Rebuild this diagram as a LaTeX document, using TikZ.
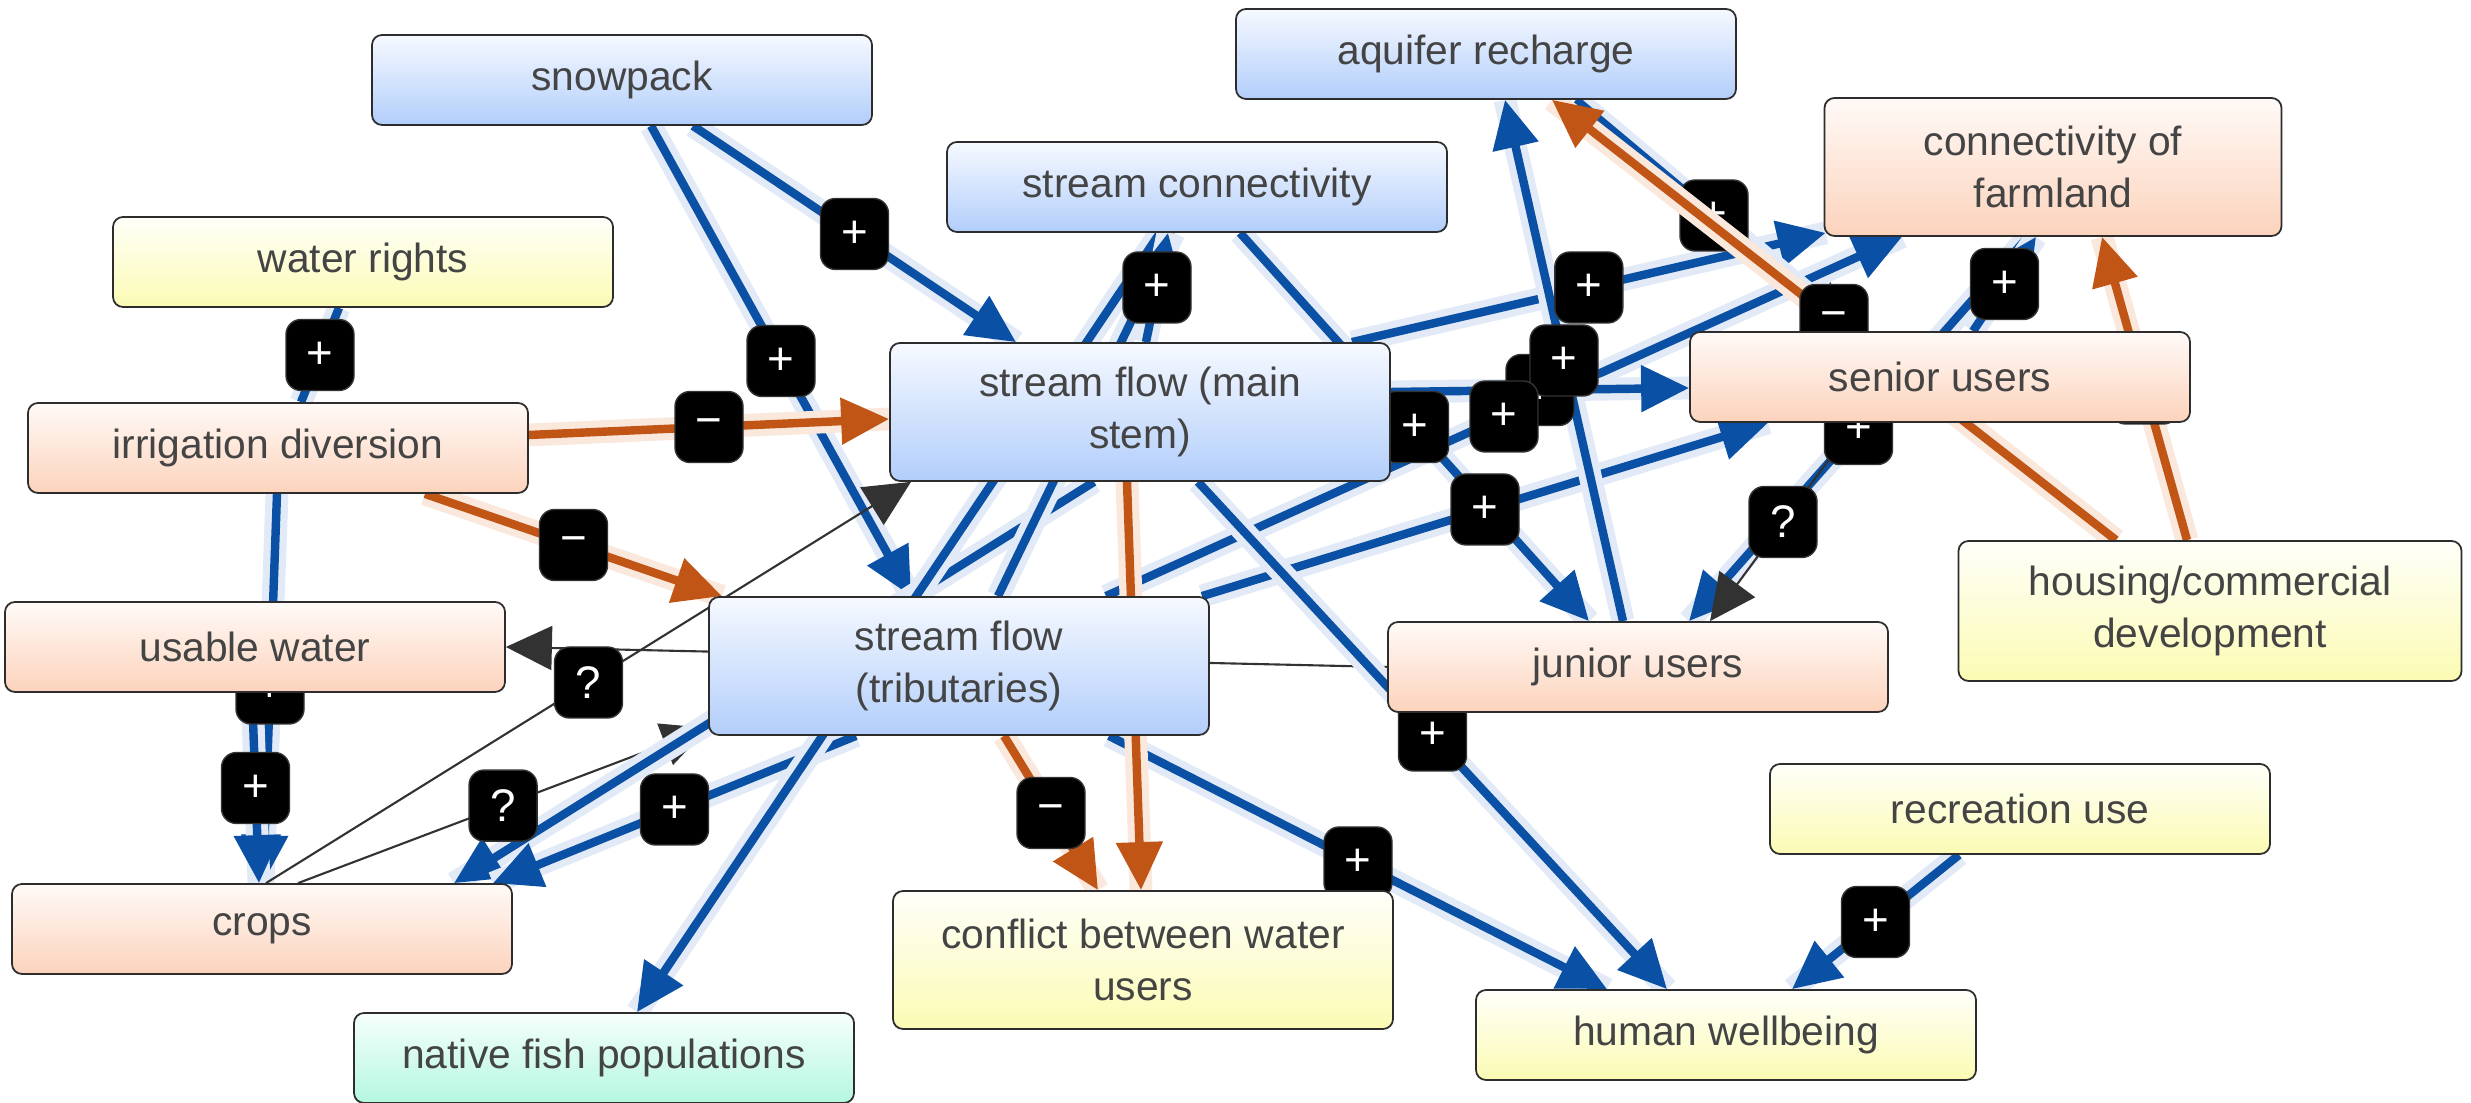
\documentclass[tikz,border=0pt]{standalone}
\usepackage{fontspec}
\setmainfont{Liberation Sans}
\usetikzlibrary{arrows.meta}

\definecolor{nodeline}{RGB}{45,45,45}
\definecolor{nodetext}{RGB}{68,68,68}
\definecolor{bluetop}{RGB}{246,249,255}
\definecolor{bluebot}{RGB}{178,206,251}
\definecolor{orangetop}{RGB}{255,250,247}
\definecolor{orangebot}{RGB}{252,211,188}
\definecolor{yellowtop}{RGB}{255,255,250}
\definecolor{yellowbot}{RGB}{251,251,180}
\definecolor{greentop}{RGB}{246,255,251}
\definecolor{greenbot}{RGB}{180,247,224}
\definecolor{posblue}{RGB}{10,80,165}
\definecolor{poshalo}{RGB}{225,234,246}
\definecolor{negorange}{RGB}{192,85,22}
\definecolor{neghalo}{RGB}{250,232,220}
\definecolor{unkgray}{RGB}{50,50,50}

\pgfdeclarelayer{edges}
\pgfdeclarelayer{signs}
\pgfsetlayers{edges,signs,main}

\tikzset{
	concept/.style={draw=nodeline,line width=0.5pt,rounded corners=1mm,minimum width=5cm,minimum height=0.9cm,inner sep=0pt,align=center,text=nodetext,font=\fontsize{11.6}{14.8}\selectfont},
	tall/.style={minimum height=1.38cm},
	bluebox/.style={concept,top color=bluetop,bottom color=bluebot},
	orangebox/.style={concept,top color=orangetop,bottom color=orangebot},
	yellowbox/.style={concept,top color=yellowtop,bottom color=yellowbot},
	greenbox/.style={concept,top color=greentop,bottom color=greenbot},
	posedge/.style={draw=posblue,line width=2.4pt,-{Triangle[length=4.8mm,width=4.5mm]},preaction={draw=poshalo,line width=6.5pt,-}},
	negedge/.style={draw=negorange,line width=2.4pt,-{Triangle[length=4.8mm,width=4.5mm]},preaction={draw=neghalo,line width=6.5pt,-}},
	unkedge/.style={draw=unkgray,line width=0.6pt,-{Triangle[length=4.6mm,width=4.4mm]}},
	sign/.style={fill=black,draw=black!80,rounded corners=1.5mm,minimum width=6.8mm,minimum height=7.1mm,inner sep=0pt,text=white,font=\fontsize{13}{13}\selectfont}
}

\begin{document}
\begin{tikzpicture}
	\useasboundingbox (0,0) rectangle (24.71,11.03);

	\node [bluebox] (snow) at (6.22,10.23) {snowpack};
	\node [bluebox] (aquifer) at (14.86,10.49) {aquifer recharge};
	\node [bluebox] (streamconn) at (11.97,9.16) {stream connectivity};
	\node [orangebox,tall,minimum width=4.57cm] (farmland) at (20.53,9.36) {connectivity of\\farmland};
	\node [yellowbox] (rights) at (3.63,8.41) {water rights};
	\node [bluebox,tall] (mainstem) at (11.40,6.91) {stream flow (main\\stem)};
	\node [orangebox] (senior) at (19.40,7.26) {senior users};
	\node [orangebox] (irrigation) at (2.78,6.55) {irrigation diversion};
	\node [yellowbox,minimum height=1.40cm,minimum width=5.03cm] (housing) at (22.10,4.92) {housing/commercial\\development};
	\node [orangebox] (usable) at (2.55,4.56) {usable water};
	\node [bluebox,tall] (tribs) at (9.59,4.37) {stream flow\\(tributaries)};
	\node [orangebox] (junior) at (16.38,4.36) {junior users};
	\node [yellowbox] (recreation) at (20.20,2.94) {recreation use};
	\node [orangebox] (crops) at (2.62,1.74) {crops};
	\node [yellowbox,tall] (conflict) at (11.43,1.43) {conflict between water\\users};
	\node [yellowbox] (wellbeing) at (17.26,0.68) {human wellbeing};
	\node [greenbox] (fish) at (6.04,0.45) {native fish populations};

	\begin{pgfonlayer}{edges}
	\draw [posedge] ([xshift=0.71cm]snow.south) -- coordinate [midway] (c1) ([xshift=-1.24cm]mainstem.north);
	\draw [posedge] ([xshift=0.29cm]snow.south) -- coordinate [midway] (c2) ([xshift=-0.48cm]tribs.north);
	\draw [posedge,-] ([xshift=-0.24cm]rights.south) -- coordinate [midway] (c3) ([xshift=0.23cm]irrigation.north);
	\draw [negedge] ([yshift=0.13cm]irrigation.east) -- coordinate [midway] (c4) ([yshift=-0.07cm]mainstem.west);
	\draw [negedge] ([xshift=1.47cm]irrigation.south) -- coordinate [midway] (c5) ([xshift=-2.37cm]tribs.north);
	\draw [posedge] ([xshift=-0.01cm]irrigation.south) -- coordinate [midway] (c6) ([xshift=0.01cm]crops.north);
	\draw [posedge] ([xshift=-0.03cm]usable.south) -- coordinate [midway] (c7) ([xshift=-0.03cm]crops.north);
	\draw [unkedge] ([xshift=0.04cm]crops.north) -- coordinate [midway] (c8) ([xshift=-2.29cm]mainstem.south);
	\draw [unkedge] ([xshift=0.36cm]crops.north) -- coordinate [midway] (c9) ([yshift=-0.62cm]tribs.west);
	\draw [unkedge] (junior.west) -- (usable.east);
	\draw [posedge] ([xshift=-0.46cm]mainstem.south) -- ([xshift=1.92cm]crops.north);
	\draw [posedge] ([xshift=-1.03cm]tribs.south) -- coordinate [midway] (c12) ([xshift=2.31cm]crops.north);
	\draw [posedge] ([xshift=-0.37cm]streamconn.south) -- ([xshift=0.33cm]fish.north);
	\draw [posedge] ([xshift=0.39cm]tribs.north) -- ([xshift=-0.23cm]streamconn.south);
	\draw [posedge] ([xshift=0.06cm]mainstem.north) -- coordinate [midway] (c15) ([xshift=-0.29cm]streamconn.south);
	\draw [posedge] ([xshift=0.43cm]streamconn.south) -- coordinate [midway] (c16) ([xshift=-0.49cm]junior.north);
	\draw [posedge] ([xshift=2.12cm]mainstem.north) -- coordinate [midway] (c17) ([xshift=0.02cm,yshift=0.04cm]farmland.south west);
	\draw [posedge] ([xshift=1.47cm]tribs.north) -- coordinate [midway] (c18) ([xshift=-1.51cm]farmland.south);
	\draw [posedge] ([yshift=0.20cm]mainstem.east) -- coordinate [midway] (c19) ([yshift=-0.11cm]senior.west);
	\draw [posedge] ([xshift=2.43cm]tribs.north) -- coordinate [midway] (c20) ([xshift=-1.72cm]senior.south);
	\draw [posedge] ([xshift=-0.15cm]junior.north) -- coordinate [midway] (c21) ([xshift=0.19cm]aquifer.south);
	\draw [posedge] ([xshift=0.90cm]aquifer.south) -- coordinate [midway] (c22) ([xshift=-0.88cm]senior.north);
	\draw [negedge] ([xshift=-0.23cm]housing.north) -- coordinate [midway] (c24) ([xshift=0.49cm]farmland.south);
	\draw [posedge] ([xshift=-0.25cm]farmland.south) -- coordinate [midway] (c25) ([xshift=0.51cm]junior.north);
	\draw [posedge] ([xshift=0.33cm]senior.north) -- coordinate [midway] (c26) ([xshift=-0.17cm]farmland.south);
	\draw [unkedge] ([xshift=-0.84cm]senior.south) -- coordinate [midway] (c27) ([xshift=0.72cm]junior.north);
	\draw [posedge] ([xshift=0.58cm]mainstem.south) -- coordinate [midway] (c28) ([xshift=-0.59cm]wellbeing.north);
	\draw [posedge] ([xshift=1.50cm]tribs.south) -- coordinate [midway] (c29) ([xshift=-1.19cm]wellbeing.north);
	\draw [posedge] ([xshift=-0.61cm]recreation.south) -- coordinate [midway] (c30) ([xshift=0.66cm]wellbeing.north);
	\draw [negedge] ([xshift=0.45cm]tribs.south) -- coordinate [midway] (c31) ([xshift=-0.45cm]conflict.north);
	\draw [negedge] ([xshift=-0.13cm]mainstem.south) -- ([xshift=-0.02cm]conflict.north);
	\end{pgfonlayer}

	\begin{pgfonlayer}{signs}
	\node [sign] at (c1) {+};
	\node [sign] at (c2) {+};
	\node [sign] at (c3) {+};
	\node [sign] at (c4) {−};
	\node [sign] at (c5) {−};
	\node [sign] at (c6) {+};
	\node [sign] at (c7) {+};
	\node [sign] at (c8) {?};
	\node [sign] at (c9) {?};
	\node [sign] at (c12) {+};
	\node [sign] at (c15) {+};
	\node [sign] at (c19) {+};
	\node [sign] at (c16) {+};
	\node [sign] at (c17) {+};
	\node [sign] at (c21) {+};
	\node [sign] at (c18) {+};
	\node [sign] at (c20) {+};
	\node [sign] at (c22) {+};
	\node [sign] at (c24) {−};
	\node [sign] at (c25) {+};
	\node [sign] at (c26) {+};
	\node [sign] at (c27) {?};
	\node [sign] at (c28) {+};
	\node [sign] at (c29) {+};
	\node [sign] at (c30) {+};
	\node [sign] at (c31) {−};
	\draw [negedge] ([xshift=-0.94cm]housing.north) -- coordinate [midway] (c23) ([xshift=0.66cm]aquifer.south);
	\node [sign] at (c23) {−};
	\end{pgfonlayer}
\end{tikzpicture}
\end{document}
